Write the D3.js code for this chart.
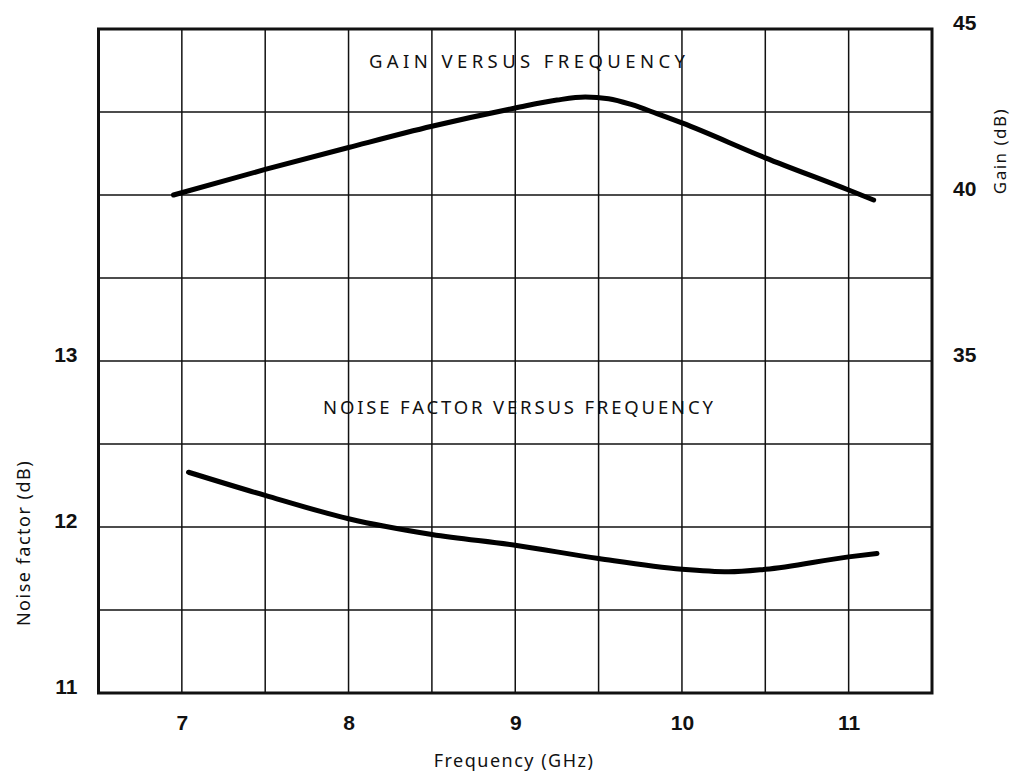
<!DOCTYPE html>
<html>
<head>
<meta charset="utf-8">
<script src="https://cdn.jsdelivr.net/npm/d3@7"></script>
<style>
  body { margin: 0; background: #fff; }
  text { fill: #111; }
</style>
</head>
<body>
<div id="chart"></div>
<script>
// frequency ticks (GHz)
const freqTicks = [7, 8, 9, 10, 11];
const noiseTicks = [11, 12, 13];
const gainTicks = [35, 40, 45];

// gain curve
const gainFreq = [6.95, 7.5, 8.0, 8.5, 9.0, 9.25, 9.42, 9.56, 9.7, 9.85, 10.0, 10.5, 11.0, 11.15];
const gainDb   = [40.0, 40.77, 41.43, 42.07, 42.62, 42.86, 42.95, 42.9, 42.72, 42.45, 42.17, 41.12, 40.15, 39.85];

// noise factor curve
const noiseFreq = [7.04, 7.5, 8.0, 8.5, 9.0, 9.5, 10.0, 10.28, 10.5, 11.0, 11.17];
const noiseDb   = [12.33, 12.19, 12.05, 11.955, 11.89, 11.81, 11.745, 11.73, 11.745, 11.82, 11.84];

const width = 1014, height = 775;
const plot = {left: 98.5, right: 932, top: 29, bottom: 693};

const svg = d3.select("#chart").append("svg")
    .attr("width", width)
    .attr("height", height);

const x = d3.scaleLinear().domain([6.5, 11.5]).range([plot.left, plot.right]);
const yNoise = d3.scaleLinear().domain([11, 15]).range([plot.bottom, plot.top]);
const yGain = d3.scaleLinear().domain([25, 45]).range([plot.bottom, plot.top]);

// grid lines every half GHz / half dB
const g = svg.append("g");
g.selectAll(".vgrid")
  .data(d3.range(7, 11.5, 0.5))
  .enter().append("line")
  .attr("x1", d => x(d)).attr("x2", d => x(d))
  .attr("y1", plot.top).attr("y2", plot.bottom)
  .attr("stroke", "#111").attr("stroke-width", 1.5);

g.selectAll(".hgrid")
  .data(d3.range(11.5, 15, 0.5))
  .enter().append("line")
  .attr("x1", plot.left).attr("x2", plot.right)
  .attr("y1", d => yNoise(d)).attr("y2", d => yNoise(d))
  .attr("stroke", "#111").attr("stroke-width", 1.5);

// frame
g.append("rect")
  .attr("x", plot.left).attr("y", plot.top)
  .attr("width", plot.right - plot.left)
  .attr("height", plot.bottom - plot.top)
  .attr("fill", "none")
  .attr("stroke", "#111")
  .attr("stroke-width", 3);

// axes (labels only, the grid does the lines)
const numFont = "'Liberation Sans', Arial, sans-serif";

const xAxis = svg.append("g")
  .attr("transform", "translate(0," + plot.bottom + ")")
  .call(d3.axisBottom(x).tickValues(freqTicks).tickSize(0).tickPadding(37).tickFormat(d3.format("d")));
xAxis.selectAll("text").attr("dy", "0");

const leftAxis = svg.append("g")
  .attr("transform", "translate(" + plot.left + ",0)")
  .call(d3.axisLeft(yNoise).tickValues(noiseTicks).tickSize(0).tickPadding(21).tickFormat(d3.format("d")));
leftAxis.selectAll("text").attr("dy", "0");

const rightAxis = svg.append("g")
  .attr("transform", "translate(" + plot.right + ",0)")
  .call(d3.axisRight(yGain).tickValues(gainTicks).tickSize(0).tickPadding(21).tickFormat(d3.format("d")));
rightAxis.selectAll("text").attr("dy", "0");

[xAxis, leftAxis, rightAxis].forEach(a => {
  a.select(".domain").remove();
  a.selectAll("text")
    .style("font-family", numFont)
    .style("font-size", "21px")
    .style("font-weight", "bold")
    .attr("fill", "#111");
});

// curves
const gainLine = d3.line()
  .x((d, i) => x(gainFreq[i]))
  .y(d => yGain(d))
  .curve(d3.curveMonotoneX);

const noiseLine = d3.line()
  .x((d, i) => x(noiseFreq[i]))
  .y(d => yNoise(d))
  .curve(d3.curveMonotoneX);

svg.append("path")
  .attr("d", gainLine(gainDb))
  .attr("fill", "none")
  .attr("stroke", "#000")
  .attr("stroke-width", 5)
  .attr("stroke-linecap", "round");

svg.append("path")
  .attr("d", noiseLine(noiseDb))
  .attr("fill", "none")
  .attr("stroke", "#000")
  .attr("stroke-width", 5)
  .attr("stroke-linecap", "round");

// titles and axis names
const txtFont = "'Noto Sans', 'DejaVu Sans', sans-serif";

svg.append("text")
  .attr("x", 527).attr("y", 68)
  .attr("text-anchor", "middle")
  .attr("textLength", 316).attr("lengthAdjust", "spacing")
  .style("font-family", txtFont).style("font-size", "18.5px")
  .text("GAIN VERSUS FREQUENCY");

svg.append("text")
  .attr("x", 518).attr("y", 414)
  .attr("text-anchor", "middle")
  .attr("textLength", 390).attr("lengthAdjust", "spacing")
  .style("font-family", txtFont).style("font-size", "18.5px")
  .text("NOISE FACTOR VERSUS FREQUENCY");

svg.append("text")
  .attr("x", 514).attr("y", 767)
  .attr("text-anchor", "middle")
  .style("font-family", txtFont).style("font-size", "18px")
  .style("letter-spacing", "1.5px")
  .text("Frequency (GHz)");

svg.append("text")
  .attr("transform", "translate(30,543) rotate(-90)")
  .attr("text-anchor", "middle")
  .style("font-family", txtFont).style("font-size", "18px")
  .style("letter-spacing", "1.5px")
  .text("Noise factor (dB)");

svg.append("text")
  .attr("transform", "translate(1006,151) rotate(-90)")
  .attr("text-anchor", "middle")
  .style("font-family", txtFont).style("font-size", "17px")
  .style("letter-spacing", "1.5px")
  .text("Gain (dB)");
</script>
</body>
</html>
